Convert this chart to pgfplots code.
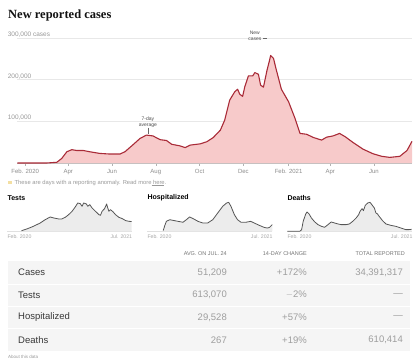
\documentclass[border=0pt]{standalone}
\usepackage{pgfplots}
\pgfplotsset{compat=1.18}
\usepackage{pgfplotstable}
\usepackage{fontspec}
\setmainfont{Liberation Sans}
\newfontfamily\serifbold{Liberation Serif}
\definecolor{casefill}{HTML}{F7CACA}
\definecolor{casered}{HTML}{A92B38}
\definecolor{minifill}{HTML}{ECECEC}
\definecolor{miniline}{HTML}{555555}
\definecolor{anom}{HTML}{F3DFA2}
\definecolor{titleblack}{HTML}{121212}

\pgfplotstableread{
d v
-11 0
0 0
30 0
44 1700
51 11000
58 27000
65 32000
72 30000
81 30000
90 27000
104 23000
118 21500
132 21500
139 27000
151 45000
160 59000
169 67000
178 65000
188 56000
197 54000
204 45000
216 41000
223 37000
230 43000
244 46000
253 51000
262 61000
272 79000
278 103000
285 151000
292 171000
296 177000
299 165000
303 160000
306 183000
311 209000
317 209000
320 217000
325 213000
328 187000
332 182000
337 223000
340 243000
342 258000
346 251000
350 223000
357 177000
367 147000
376 107000
383 71000
392 69000
402 61000
413 55000
420 62000
429 65000
438 71000
446 63000
457 49000
471 33000
485 22000
497 16000
508 13500
522 16000
532 30000
539 52000
}\casetab

\pgfplotstableread{
d v
52 44
75 153
104 328
134 546
156 764
178 939
193 874
215 808
229 808
244 917
259 1092
274 1310
288 1594
299 1856
310 1813
318 1638
325 1856
337 1791
343 1638
352 1747
362 1529
377 1310
392 1092
399 1048
406 1310
417 1485
426 1791
431 1529
436 1310
443 1420
455 1267
465 1092
480 917
495 830
510 699
524 655
536 640
}\teststab

\pgfplotstableread{
d v
59 3
66 25
73 43
88 50
103 47
124 43
146 39
161 50
175 62
190 55
212 43
233 36
255 36
277 50
299 79
321 108
338 122
347 125
357 108
372 72
386 50
401 39
423 39
444 43
459 36
481 26
503 17
517 14
527 17
539 29
}\hosptab

\pgfplotstableread{
d v
-11 0
44 0
52 195
59 1172
70 2032
76 2267
85 2032
95 1563
110 1094
124 782
139 586
153 469
168 782
182 1094
197 977
212 860
226 782
248 782
262 860
277 1172
292 1563
303 1954
309 2345
318 2657
324 2423
332 3048
343 3322
353 3400
361 3126
372 2736
379 2149
386 2032
393 1759
408 1251
423 860
444 703
466 586
488 391
510 195
524 195
536 235
}\deathtab

\pgfplotsset{
  mini/.style={scale only axis, width=125pt, height=29pt, xmin=-11, xmax=539,
    ymin=0, axis lines=none, clip=false, anchor=south west},
}

\begin{document}
\begin{tikzpicture}
\path[use as bounding box] (0pt,0pt) rectangle (420pt,360pt);

% table background (drawn first)
\fill[black!4] (8pt,9.5pt) rectangle (410pt,99.5pt);
\draw[white, line width=1pt] (8pt,76pt) -- (410pt,76pt);
\draw[white, line width=1pt] (8pt,54pt) -- (410pt,54pt);
\draw[white, line width=1pt] (8pt,31.5pt) -- (410pt,31.5pt);

% title
\node[anchor=west, inner sep=0, text=titleblack, font=\serifbold\bfseries\fontsize{12.5}{14}\selectfont] at (8pt,345pt) {New reported cases};

% main chart
\begin{axis}[
  at={(17.3pt,197pt)}, anchor=south west,
  scale only axis, width=394.7pt, height=125pt,
  xmin=-11, xmax=539, ymin=0, ymax=300000,
  axis x line*=bottom, axis y line*=left,
  x axis line style={draw=black!25},
  y axis line style={draw=none},
  xtick={0,60,121,182,243,304,367,425,486},
  xticklabels={Feb. 2020,Apr,Jun,Aug,Oct,Dec,Feb. 2021,Apr,Jun},
  x tick label style={font=\fontsize{6}{7}\selectfont, text=black!45},
  xtick style={draw=black!30},
  tick align=outside, major tick length=2.5pt,
  ytick={100000,200000,300000}, yticklabels={,,},
  scaled y ticks=false,
  ytick style={draw=none},
  ymajorgrids, grid style={draw=black!9, line width=0.5pt},
  clip=false,
]
\addplot[draw=none, fill=casefill] table[x=d,y=v] {\casetab} \closedcycle;
\addplot[casered, line width=1.1pt, line join=round] table[x=d,y=v] {\casetab};

\node[anchor=south west, inner sep=0, font=\fontsize{6.5}{7}\selectfont, text=black!40] at (axis cs:-24.5,301500) {300,000 cases};
\node[anchor=south west, inner sep=0, font=\fontsize{6.5}{7}\selectfont, text=black!40] at (axis cs:-24.5,201500) {200,000};
\node[anchor=south west, inner sep=0, font=\fontsize{6.5}{7}\selectfont, text=black!40] at (axis cs:-24.5,101500) {100,000};

\node[align=center, inner sep=0, font=\fontsize{5}{6}\selectfont, text=black!70] at (axis cs:171,98500) {7-day\\average};
\draw[black!60, line width=0.4pt] (axis cs:171,85000) -- (axis cs:171,69500);
\node[align=center, inner sep=0, font=\fontsize{5}{6}\selectfont, text=black!70] at (axis cs:320,305500) {New\\cases};
\draw[black!60, line width=0.4pt] (axis cs:332,298500) -- (axis cs:337,298500);
\end{axis}

% anomaly footnote
\fill[anom] (8pt,175.6pt) rectangle (11.5pt,179.1pt);
\node[anchor=west, inner sep=0, font=\fontsize{5.8}{7}\selectfont, text=black!40] at (14.5pt,177.3pt) {These are days with a reporting anomaly. Read more here.};
\draw[black!40, line width=0.3pt] (151.5pt,175.2pt) -- (163.5pt,175.2pt);

% small multiples
\node[anchor=west, inner sep=0, font=\bfseries\fontsize{7}{8}\selectfont] at (7.3pt,162pt) {Tests};
\node[anchor=west, inner sep=0, font=\bfseries\fontsize{7}{8}\selectfont] at (147.3pt,162pt) {Hospitalized};
\node[anchor=west, inner sep=0, font=\bfseries\fontsize{7}{8}\selectfont] at (287.3pt,162pt) {Deaths};

\begin{axis}[mini, at={(7.3pt,128.7pt)}, ymax=1900]
\draw[black!12, line width=0.5pt] (axis cs:-11,0) -- (axis cs:539,0);
\addplot[draw=none, fill=minifill] table[x=d,y=v] {\teststab} \closedcycle;
\addplot[miniline, line width=0.8pt, line join=round] table[x=d,y=v] {\teststab};
\end{axis}
\begin{axis}[mini, at={(147.3pt,128.7pt)}, ymax=125]
\draw[black!12, line width=0.5pt] (axis cs:-11,0) -- (axis cs:539,0);
\addplot[draw=none, fill=minifill] table[x=d,y=v] {\hosptab} \closedcycle;
\addplot[miniline, line width=0.8pt, line join=round] table[x=d,y=v] {\hosptab};
\end{axis}
\begin{axis}[mini, at={(287.3pt,128.7pt)}, ymax=3400]
\draw[black!12, line width=0.5pt] (axis cs:-11,0) -- (axis cs:539,0);
\addplot[draw=none, fill=minifill] table[x=d,y=v] {\deathtab} \closedcycle;
\addplot[miniline, line width=0.8pt, line join=round] table[x=d,y=v] {\deathtab};
\end{axis}

\foreach \xl/\xr in {7.3/132.3, 147.3/272.7, 287.3/412.7}{
  \node[anchor=west, inner sep=0, font=\fontsize{5.2}{6}\selectfont, text=black!35] at (\xl pt,123pt) {Feb. 2020};
  \node[anchor=east, inner sep=0, font=\fontsize{5.2}{6}\selectfont, text=black!35] at (\xr pt,123pt) {Jul. 2021};
}

% table
\node[anchor=east, inner sep=0, font=\fontsize{5.5}{6}\selectfont, text=black!55] at (227pt,106pt) {AVG. ON JUL. 24};
\node[anchor=east, inner sep=0, font=\fontsize{5.5}{6}\selectfont, text=black!55] at (307pt,106pt) {14-DAY CHANGE};
\node[anchor=east, inner sep=0, font=\fontsize{5.5}{6}\selectfont, text=black!55] at (405pt,106pt) {TOTAL REPORTED};

\foreach \yy/\lab/\va/\vb/\vc in {87.5/Cases/51{,}209/+172\%/34{,}391{,}317, 65/Tests/613{,}070/$-$2\%/---, 42.5/Hospitalized/29{,}528/+57\%/---, 20/Deaths/267/+19\%/610{,}414}{
  \node[anchor=west, inner sep=0, font=\fontsize{9.5}{11}\selectfont, text=black!78] at (18pt,\yy pt) {\lab};
  \node[anchor=east, inner sep=0, font=\fontsize{9.5}{11}\selectfont, text=black!38] at (227pt,\yy pt) {\va};
  \node[anchor=east, inner sep=0, font=\fontsize{9.5}{11}\selectfont, text=black!38] at (307pt,\yy pt) {\vb};
  \node[anchor=east, inner sep=0, font=\fontsize{9.5}{11}\selectfont, text=black!38] at (403pt,\yy pt) {\vc};
}

\node[anchor=west, inner sep=0, font=\fontsize{4.5}{5}\selectfont, text=black!40] at (8pt,3.5pt) {About this data};
\end{tikzpicture}
\end{document}
